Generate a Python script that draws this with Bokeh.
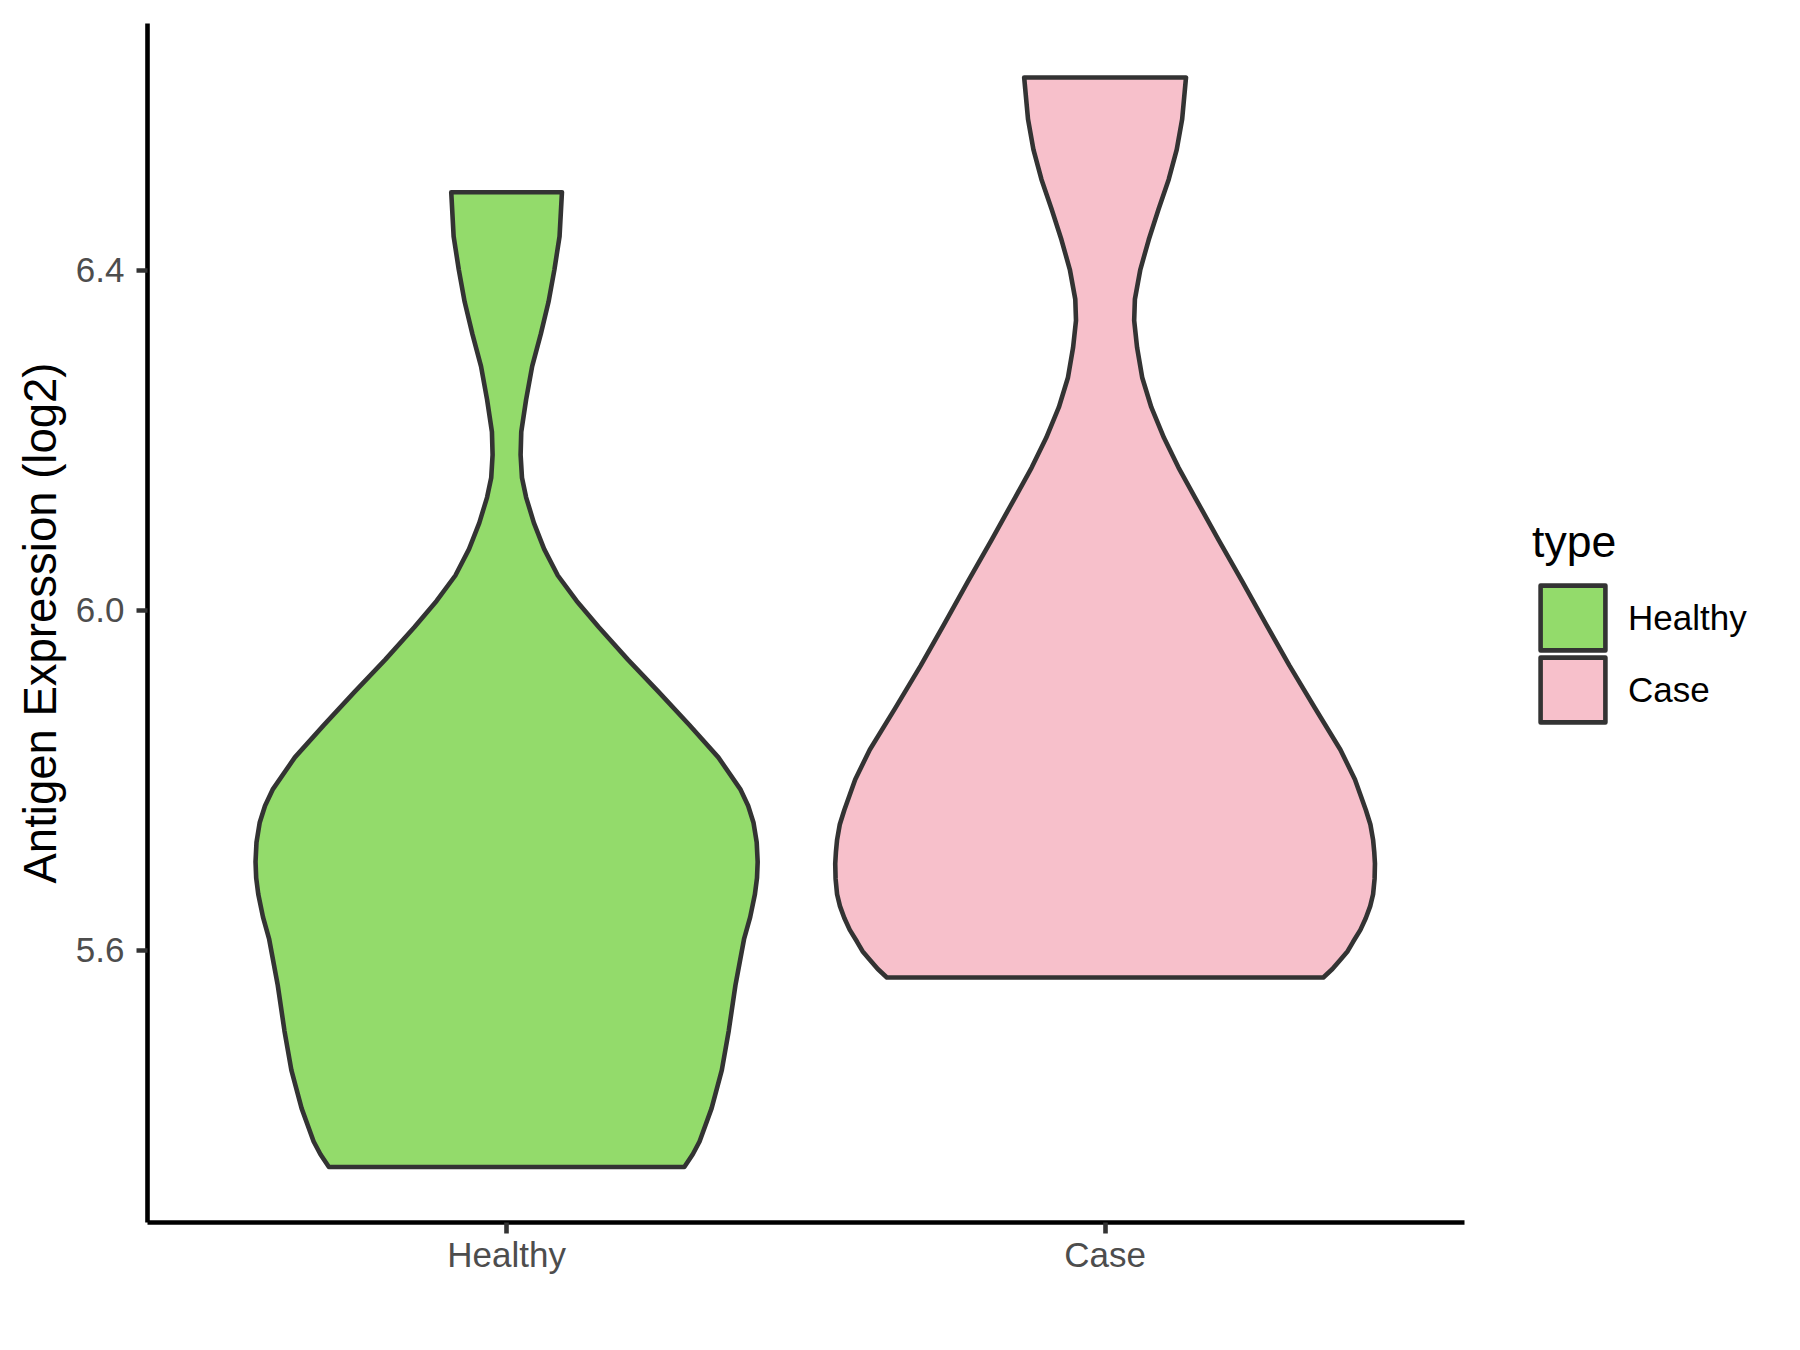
from bokeh.plotting import figure
from bokeh.models import Range1d, FixedTicker, Legend, LegendItem
from bokeh.embed import file_html
from bokeh.resources import INLINE

# ---- data ----
categories = ["Healthy", "Case"]
fill_colors = ["#93DB6B", "#F7C0CB"]

# violin outlines: expression level (log2) and half-width of the violin (x units)
healthy_y = [6.492, 6.440, 6.401, 6.363, 6.325, 6.287, 6.248, 6.210, 6.183, 6.156,
             6.133, 6.103, 6.072, 6.041, 6.011, 5.980, 5.942, 5.904, 5.865, 5.827,
             5.789, 5.770, 5.750, 5.727, 5.704, 5.685, 5.666, 5.639, 5.613, 5.559,
             5.505, 5.459, 5.414, 5.375, 5.360, 5.345]
healthy_half = [0.0925, 0.0885, 0.0799, 0.0701, 0.0571, 0.0427, 0.0326, 0.0245, 0.0234, 0.0257,
                0.0326, 0.0456, 0.0628, 0.0856, 0.1170, 0.1542, 0.2027, 0.2540, 0.3054, 0.3538,
                0.3910, 0.4036, 0.4126, 0.4179, 0.4195, 0.4184, 0.4149, 0.4070, 0.3967, 0.3824,
                0.3711, 0.3596, 0.3425, 0.3224, 0.3111, 0.2969]

case_y = [6.627, 6.578, 6.542, 6.507, 6.472, 6.436, 6.401, 6.366, 6.341, 6.309,
          6.274, 6.239, 6.203, 6.168, 6.133, 6.083, 6.034, 5.984, 5.935, 5.885,
          5.836, 5.801, 5.783, 5.765, 5.748, 5.730, 5.716, 5.702, 5.684, 5.666,
          5.652, 5.638, 5.624, 5.610, 5.599, 5.589, 5.578, 5.568]
case_half = [0.1352, 0.1288, 0.1197, 0.1063, 0.0893, 0.0729, 0.0589, 0.0498, 0.0486, 0.0535,
             0.0620, 0.0772, 0.0984, 0.1227, 0.1501, 0.1896, 0.2291, 0.2686, 0.3081, 0.3506,
             0.3932, 0.4175, 0.4266, 0.4357, 0.4433, 0.4478, 0.4497, 0.4509, 0.4503, 0.4478,
             0.4430, 0.4357, 0.4266, 0.4144, 0.4053, 0.3932, 0.3798, 0.3646]

y_ticks = [5.6, 6.0, 6.4]
y_tick_labels = ["5.6", "6.0", "6.4"]
y_title = "Antigen Expression (log2)"
legend_title = "type"

profiles = [(healthy_y, healthy_half), (case_y, case_half)]

FONT = "Liberation Sans"
LW = 4.6

p = figure(width=1784, height=1334,
           x_range=Range1d(0.4, 3.1185), y_range=Range1d(5.2797, 6.6905),
           output_backend="svg", toolbar_location=None,
           min_border_left=147, min_border_right=10,
           min_border_top=23, min_border_bottom=112)
p.grid.visible = False
p.outline_line_color = None
p.background_fill_color = "white"
p.border_fill_color = "white"

renderers = []
for i, (cat, (ys, hs)) in enumerate(zip(categories, profiles)):
    center = i + 1
    xs = [center - h for h in hs] + [center + h for h in reversed(hs)]
    yy = list(ys) + list(reversed(ys))
    r = p.patch(xs, yy, fill_color=fill_colors[i], line_color="#333333",
                line_width=LW, line_join="round")
    renderers.append(r)

# x axis (line limited to the panel of the two categories)
xa = p.xaxis[0]
xa.bounds = (0.4, 2.6)
xa.ticker = FixedTicker(ticks=[1, 2])
xa.major_label_overrides = {1: categories[0], 2: categories[1]}
xa.minor_tick_line_color = None
xa.major_tick_in = 0
xa.major_tick_out = 11
xa.major_tick_line_color = "#333333"
xa.major_tick_line_width = LW
xa.axis_line_color = "black"
xa.axis_line_width = LW
xa.major_label_text_font = FONT
xa.major_label_text_font_size = "35px"
xa.major_label_text_color = "#4D4D4D"
xa.major_label_standoff = 1

# y axis
ya = p.yaxis[0]
ya.ticker = FixedTicker(ticks=y_ticks)
ya.major_label_overrides = {t: l for t, l in zip(y_ticks, y_tick_labels)}
ya.minor_tick_line_color = None
ya.major_tick_in = 0
ya.major_tick_out = 11
ya.major_tick_line_color = "#333333"
ya.major_tick_line_width = LW
ya.axis_line_color = "black"
ya.axis_line_width = LW
ya.major_label_text_font = FONT
ya.major_label_text_font_size = "35px"
ya.major_label_text_color = "#4D4D4D"
ya.major_label_standoff = 12
ya.axis_label = y_title
ya.axis_label_text_font = FONT
ya.axis_label_text_font_size = "45.5px"
ya.axis_label_text_font_style = "normal"
ya.axis_label_text_color = "black"
ya.axis_label_standoff = 7


def make_legend(items, loc, title=None):
    lg = Legend(items=items, location=loc)
    if title is not None:
        lg.title = title
        lg.title_text_font = FONT
        lg.title_text_font_size = "44.6px"
        lg.title_text_font_style = "normal"
        lg.title_text_color = "black"
        lg.title_standoff = 10
    lg.label_text_font = FONT
    lg.label_text_font_size = "35px"
    lg.label_text_color = "black"
    lg.glyph_width = 81
    lg.glyph_height = 81
    lg.label_height = 81
    lg.spacing = 0
    lg.label_standoff = 15
    lg.padding = 0
    lg.margin = 0
    lg.border_line_alpha = 0
    lg.background_fill_alpha = 0
    return lg


items = [LegendItem(label=c, renderers=[r]) for c, r in zip(categories, renderers)]
legend_top = make_legend([items[0]], (1385, 564), title=legend_title)
legend_bottom = make_legend([items[1]], (1385, 492))
p.add_layout(legend_top, "center")
p.add_layout(legend_bottom, "center")

open("out.html", "w").write(file_html(p, INLINE))
